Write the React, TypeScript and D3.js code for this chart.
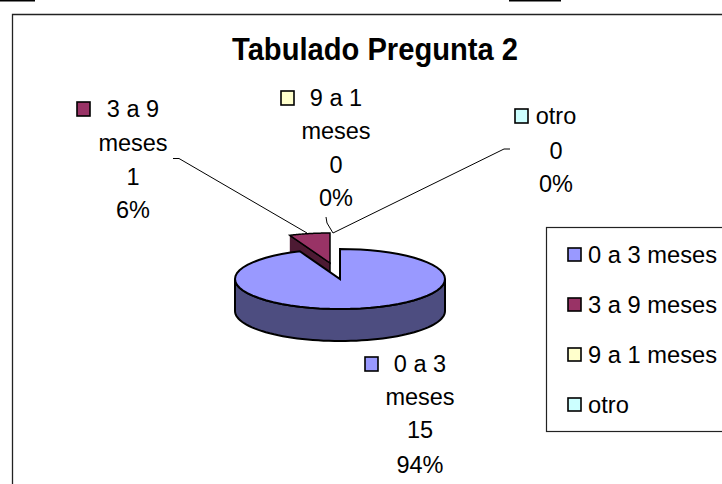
import React from "react";
import * as d3 from "d3";

const categories = ["0 a 3 meses", "3 a 9 meses", "9 a 1 meses", "otro"];
const values = [15, 1, 0, 0];
const colors = ["#9999ff", "#993366", "#ffffcc", "#ccffff"];
const sideColors = ["#4d4d80", "#4d1a33"];
const titleText = "Tabulado Pregunta 2";
const FONT = "'Liberation Sans', Arial, sans-serif";

const pieData = d3.pie<number>().sort(null).value((d) => d)(values);

const cx = 340, cy = 279, rx = 105, ry = 30, depth = 32;
const ex = -10, ey = -16; // explode offset of second slice
const pt = (a: number, ox = 0, oy = 0): [number, number] => [cx + ox + rx * Math.sin(a), cy + oy - ry * Math.cos(a)];
const arcPts = (a0: number, a1: number, ox = 0, oy = 0) =>
  d3.range(0, 61).map((i) => pt(a0 + ((a1 - a0) * i) / 60, ox, oy));
const line = d3.line();

const labels = [
  { lines: ["0 a 3", "meses", String(values[0]), "94%"], ys: [372, 405, 438, 473], x: 420, color: colors[0], mx: 365 },
  { lines: ["3 a 9", "meses", String(values[1]), "6%"], ys: [117, 151, 185, 218], x: 133, color: colors[1], mx: 77 },
  { lines: ["9 a 1", "meses", String(values[2]), "0%"], ys: [106, 139, 173, 206], x: 336, color: colors[2], mx: 281 },
  { lines: ["otro", "0", "0%"], ys: [124, 159, 192], x: 556, color: colors[3], mx: 515 },
];
const leaderA = [[173, 158.5], [179, 158.5], [307, 233]] as [number, number][];
const leaderB = [[326, 217], [327, 223], [333, 233], [504, 149], [510, 149]] as [number, number][];

export default function App() {
  const s0 = pieData[0];
  const s1 = pieData[1];
  const tip: [number, number] = [cx, cy];
  const top0 = [tip, ...arcPts(s0.startAngle, s0.endAngle)] as [number, number][];
  const frontA = Math.PI / 2;
  const frontB = (3 * Math.PI) / 2;
  const side0 = [
    ...arcPts(frontA, frontB),
    ...arcPts(frontB, frontA, 0, depth),
  ] as [number, number][];
  const top1 = [[cx + ex, cy + ey], ...arcPts(s1.startAngle, s1.endAngle, ex, ey)] as [number, number][];
  const startPt = pt(s1.startAngle, ex, ey);
  const cut1 = [startPt, [cx + ex, cy + ey], [cx + ex, cy + ey + depth], [startPt[0], startPt[1] + depth]] as [number, number][];
  return (
    <svg width={722} height={484} style={{ position: "absolute", left: 0, top: 0, background: "#fff", fontFamily: FONT }}>
      <rect x={0} y={0} width={35} height={1.5} fill="#000" />
      <rect x={509} y={0} width={52} height={1.5} fill="#000" />
      <path d="M12.5 484V14.5H722" fill="none" stroke="#222" strokeWidth={1.3} />
      <text x={375} y={60} textAnchor="middle" fontSize={31} fontWeight="bold" fill="#000" textLength={286} lengthAdjust="spacingAndGlyphs">{titleText}</text>

      <path d={line(cut1)!} fill={sideColors[1]} stroke="#000" strokeWidth={1.5} />
      <path d={line(side0)! + "Z"} fill={sideColors[0]} stroke="#000" strokeWidth={2} />
      <path d={line(top0)! + "Z"} fill={colors[0]} stroke="#000" strokeWidth={2} />
      <path d={line(top1)! + "Z"} fill={colors[1]} stroke="#000" strokeWidth={1.5} />
      <path d={line(leaderA)!} fill="none" stroke="#000" strokeWidth={1} />
      <path d={line(leaderB)!} fill="none" stroke="#000" strokeWidth={1} />

      {labels.map((l) => (
        <g key={l.mx}>
          <rect x={l.mx} y={l.ys[0] - 15} width={13} height={14} fill={l.color} stroke="#000" strokeWidth={1.6} />
          {l.lines.map((t, i) => (
            <text key={i} x={l.x} y={l.ys[i]} textAnchor="middle" fontSize={23.5} fill="#000">{t}</text>
          ))}
        </g>
      ))}

      <rect x={546.5} y={227.5} width={190} height={204} fill="#fff" stroke="#222" strokeWidth={1.2} />
      {categories.map((c, i) => {
        const y = d3.scalePoint<number>().domain([0, 1, 2, 3]).range([263, 413])(i)!;
        return (
          <g key={c}>
            <rect x={568} y={y - 15} width={13} height={13} fill={colors[i]} stroke="#000" strokeWidth={1.6} />
            <text x={588} y={y} fontSize={23.7} fill="#000">{c}</text>
          </g>
        );
      })}
    </svg>
  );
}
